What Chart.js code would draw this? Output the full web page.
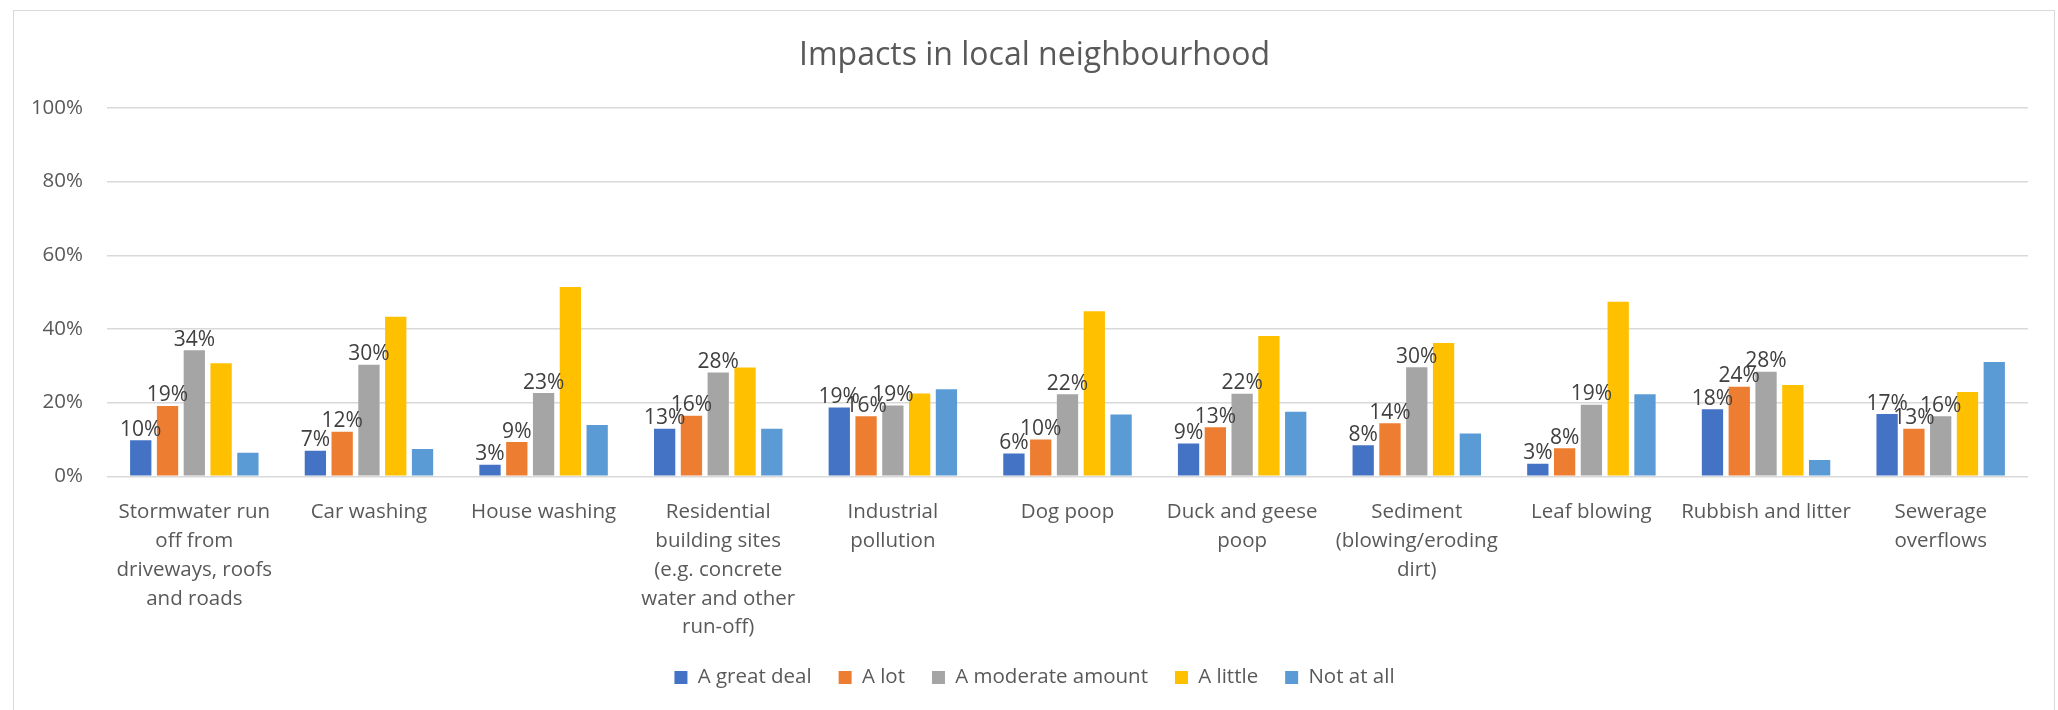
<!DOCTYPE html>
<html>
<head>
<meta charset="utf-8">
<script src="https://cdn.jsdelivr.net/npm/chart.js@4/dist/chart.umd.min.js"></script>
<style>
  html, body { margin: 0; padding: 0; background: #ffffff; }
  #wrap { width: 2058px; height: 710px; }
</style>
</head>
<body>
<div id="wrap"><canvas id="c" width="2058" height="710"></canvas></div>
<script>
const chartTitle = 'Impacts in local neighbourhood';
const categories = [
  ['Stormwater run', 'off from', 'driveways, roofs', 'and roads'],
  ['Car washing'],
  ['House washing'],
  ['Residential', 'building sites', '(e.g. concrete', 'water and other', 'run-off)'],
  ['Industrial', 'pollution'],
  ['Dog poop'],
  ['Duck and geese', 'poop'],
  ['Sediment', '(blowing/eroding', 'dirt)'],
  ['Leaf blowing'],
  ['Rubbish and litter'],
  ['Sewerage', 'overflows']
];
const seriesNames = ['A great deal', 'A lot', 'A moderate amount', 'A little', 'Not at all'];
const greatDeal = [9.8, 6.9, 3.1, 12.9, 18.7, 6.2, 8.9, 8.4, 3.4, 18.2, 16.9];
const aLot      = [19.1, 12.1, 9.3, 16.4, 16.3, 10.0, 13.3, 14.4, 7.6, 24.3, 12.9];
const moderate  = [34.2, 30.3, 22.6, 28.2, 19.2, 22.3, 22.4, 29.6, 19.4, 28.4, 16.3];
const aLittle   = [30.7, 43.3, 51.4, 29.5, 22.5, 44.8, 38.1, 36.2, 47.4, 24.8, 22.9];
const notAtAll  = [6.4, 7.4, 13.9, 12.9, 23.6, 16.8, 17.5, 11.6, 22.3, 4.4, 31.0];
const yTicks = [0, 20, 40, 60, 80, 100];
const labelledSeries = [0, 1, 2];

const seriesValues = [greatDeal, aLot, moderate, aLittle, notAtAll];
const seriesColors = ['#4472C4', '#ED7D31', '#A5A5A5', '#FFC000', '#5B9BD5'];
const FONT = "'Open Sans', 'Noto Sans', sans-serif";

const borderPlugin = {
  id: 'chartBorder',
  beforeDraw(chart) {
    const ctx = chart.ctx;
    ctx.save();
    ctx.fillStyle = '#ffffff';
    ctx.fillRect(0, 0, chart.width, chart.height);
    ctx.strokeStyle = '#D9D9D9';
    ctx.lineWidth = 1;
    ctx.strokeRect(13.5, 10.5, 2041, 720);
    ctx.restore();
  }
};

const dataLabelPlugin = {
  id: 'dataLabels',
  afterDatasetsDraw(chart) {
    const ctx = chart.ctx;
    ctx.save();
    ctx.font = "21px " + FONT;
    ctx.fillStyle = '#404040';
    ctx.textAlign = 'center';
    ctx.textBaseline = 'alphabetic';
    labelledSeries.forEach(di => {
      const meta = chart.getDatasetMeta(di);
      meta.data.forEach((bar, i) => {
        const v = chart.data.datasets[di].data[i];
        ctx.fillText(Math.round(v) + '%', bar.x, bar.y - 4.5);
      });
    });
    ctx.restore();
  }
};

new Chart(document.getElementById('c'), {
  type: 'bar',
  data: {
    labels: categories,
    datasets: seriesNames.map((name, k) => ({
      label: name,
      data: seriesValues[k],
      backgroundColor: seriesColors[k],
      borderWidth: 0,
      categoryPercentage: 0.767,
      barPercentage: 0.795
    }))
  },
  options: {
    responsive: false,
    devicePixelRatio: 1,
    animation: false,
    layout: { padding: { left: 13, right: 2, top: 0, bottom: 12.25 } },
    plugins: {
      title: {
        display: true,
        text: chartTitle,
        color: '#595959',
        font: { family: FONT, size: 32, weight: 'normal', lineHeight: 1.2 },
        padding: { top: 37, bottom: 32.6 }
      },
      legend: {
        position: 'bottom',
        labels: {
          boxWidth: 13,
          boxHeight: 13,
          padding: 27,
          color: '#595959',
          font: { family: FONT, size: 20.5 }
        }
      },
      tooltip: { enabled: false }
    },
    scales: {
      x: {
        grid: { display: false, drawTicks: false },
        border: { display: false },
        ticks: {
          color: '#595959',
          font: { family: FONT, size: 20.5, lineHeight: 1.4 },
          padding: 22,
          maxRotation: 0,
          autoSkip: false
        },
        afterFit(s) { s.height = 164; }
      },
      y: {
        min: 0,
        max: 100,
        afterBuildTicks(s) { s.ticks = yTicks.map(v => ({ value: v })); },
        grid: { color: '#D9D9D9', lineWidth: 1.5, drawTicks: false },
        border: { display: false },
        ticks: {
          color: '#595959',
          font: { family: FONT, size: 20.5 },
          padding: 24,
          callback: v => v + '%'
        },
        afterFit(s) { s.width = 94; }
      },
      y2: {
        position: 'right',
        display: true,
        grid: { display: false, drawTicks: false },
        border: { display: false },
        ticks: { display: false },
        afterFit(s) { s.width = 28; }
      }
    }
  },
  plugins: [borderPlugin, dataLabelPlugin]
});
</script>
</body>
</html>
